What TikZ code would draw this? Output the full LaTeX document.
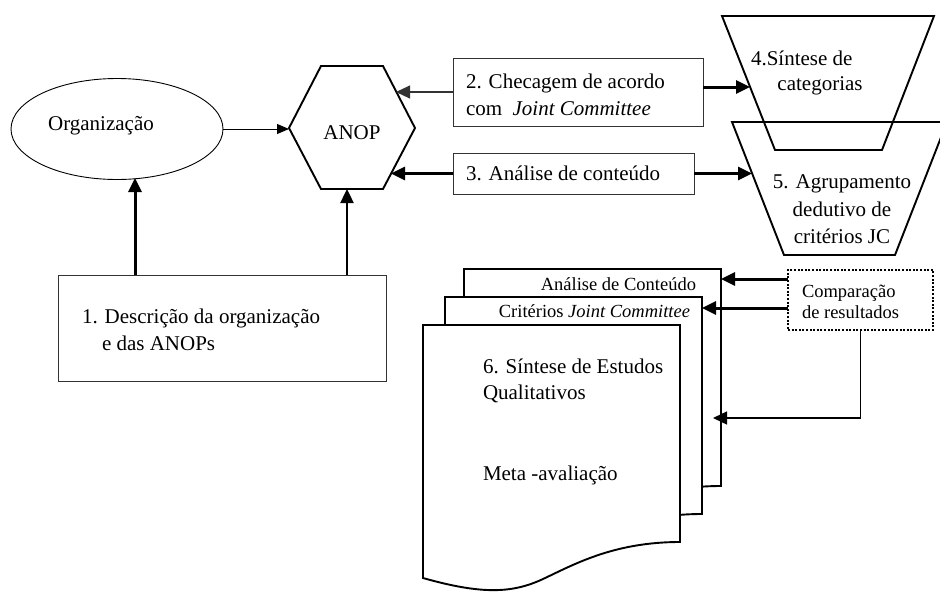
\documentclass[tikz,border=0pt]{standalone}
\usepackage{fontspec}
\setmainfont{Liberation Serif}
\usetikzlibrary{arrows.meta,shapes.geometric}
\begin{document}
\begin{tikzpicture}[x=1pt,y=-1pt,
  every node/.style={inner sep=0pt,outer sep=0pt},
  txt/.style={font=\fontsize{21}{27}\selectfont},
  stxt/.style={font=\fontsize{18.5}{23}\selectfont},
  thinbox/.style={draw=black!80,line width=0.9pt,fill=white},
  outline/.style={draw=black,line width=1.9pt,line join=miter},
  docshape/.style={draw=black,line width=1.9pt,fill=white,line join=miter},
  tipbig/.style={-{Triangle[length=14pt,width=13pt]}},
  tipsmall/.style={-{Triangle[length=12pt,width=10pt]}},
  thickarrow/.style={tipbig,line width=3pt},
  midarrow/.style={tipbig,line width=2.4pt},
  thinarrow/.style={tipbig,line width=1.1pt,draw=black!80},
  comparebox/.style={draw=black,line width=2pt,dash pattern=on 2pt off 1.6pt,fill=white}
]
\useasboundingbox (0,0) rectangle (940,592);
\clip (0,0) rectangle (940,592);

% ---- ellipse
\node[ellipse,draw=black,line width=0.9pt,minimum width=212pt,minimum height=101pt] (org) at (117,129) {};
\node[txt,anchor=base] (orgtxt) at (101,130) {Organização};

% ---- hexagon ANOP
\draw[outline] (289,128) -- (321,66) -- (383,66) -- (415,128) -- (383,189) -- (321,189) -- cycle;
\node[txt,anchor=base] (anop) at (352,139) {ANOP};
\coordinate (hexL) at (289,129);
\coordinate (hexB) at (347,189);
\coordinate (hexUR) at (396,92);
\coordinate (hexLR) at (391,173.5);

% ---- box 1
\node[thinbox,minimum width=328pt,minimum height=106pt] (box1) at (222,328) {};
\node[txt,anchor=base west] (b1a) at (82,323) {1. Descrição da organização};
\node[txt,anchor=base west] (b1b) at (102,350) {e das ANOPs};
\coordinate (orgB) at (135,178);

% ---- box 2
\node[thinbox,minimum width=250pt,minimum height=68pt] (box2) at (578,92) {};
\node[txt,anchor=base west] (b2a) at (466,88) {2. Checagem de acordo};
\node[txt,anchor=base west] (b2b) at (466,115) {com\ \ \textit{Joint Committee}};

% ---- box 3
\node[thinbox,minimum width=241pt,minimum height=41pt] (box3) at (573.5,173.5) {};
\node[txt,anchor=base west] (b3a) at (466,180) {3. Análise de conteúdo};

% ---- trapezoids
\draw[outline] (722,16) -- (934,16) -- (882,150) -- (775,150) -- cycle;
\draw[outline] (732,122) -- (947,122) -- (895,255) -- (784,255) -- cycle;
\node[txt,anchor=base west] (t4a) at (751,65) {4.Síntese de};
\node[txt,anchor=base] (t4b) at (820,90) {categorias};
\node[txt,anchor=base] (t5a) at (842,188) {5. Agrupamento};
\node[txt,anchor=base] (t5b) at (842,216) {dedutivo de};
\node[txt,anchor=base] (t5c) at (842,243) {critérios JC};
\coordinate (t4in) at (750,87);
\coordinate (t5in) at (752,173.5);

% ---- documents (back to front)
\foreach \dx/\dy in {464/269,445/297,423/325}{
  \begin{scope}[shift={(\dx,\dy)}]
    \draw[docshape] (0,0) -- (257,0) -- (257,217)
      .. controls (190,217) and (150,240) .. (120,254)
      .. controls (90,268) and (60,270) .. (0,253) -- cycle;
  \end{scope}
}
\node[stxt,anchor=base east] (d1) at (696,290) {Análise de Conteúdo};
\node[stxt,anchor=base east] (d2) at (690,317) {Critérios \textit{Joint Committee}};
\node[txt,anchor=base west] (d3a) at (483,373) {6. Síntese de Estudos};
\node[txt,anchor=base west] (d3b) at (483,399) {Qualitativos};
\node[txt,anchor=base west] (d3c) at (483,480) {Meta -avaliação};
\coordinate (d1R) at (721,279);
\coordinate (d2R) at (702,308);
\coordinate (d3in) at (713,418);

% ---- comparison box
\node[comparebox,minimum width=145pt,minimum height=60pt] (comp) at (860.5,300) {};
\node[stxt,anchor=base west] (ca) at (802,297) {Comparação};
\node[stxt,anchor=base west] (cb) at (802,318) {de resultados};

% ---- connectors
\draw[tipsmall,line width=0.9pt] (org.east |- hexL) -- (hexL);
\draw[thickarrow] (box1.north -| orgB) -- (orgB);
\draw[midarrow] (box1.north -| hexB) -- (hexB);
\draw[thinarrow] (box2.west) -- (hexUR);
\draw[thickarrow] (box2.east |- t4in) -- (t4in);
\draw[thickarrow] (box3.west) -- (hexLR);
\draw[thickarrow] (box3.east) -- (t5in);
\draw[thickarrow] (comp.west |- d1R) -- (d1R);
\draw[thickarrow] (comp.west |- d2R) -- (d2R);
\draw[tipbig,line width=1.4pt] (comp.south) |- (d3in);
\end{tikzpicture}
\end{document}
